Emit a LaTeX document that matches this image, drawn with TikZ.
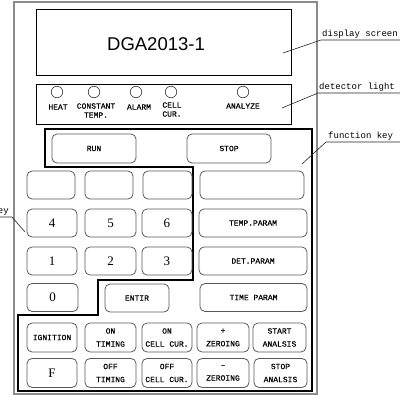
\documentclass[tikz,border=0pt]{standalone}
\usepackage{fontspec}
\newfontfamily\labelfont[FakeBold=0.5]{Liberation Mono}
\newfontfamily\notefont{Liberation Mono}
\newfontfamily\screenfont{Liberation Sans}
\newfontfamily\digitfont{Liberation Serif}
\tikzset{
  btn/.style={draw=black!65, line width=0.8pt, rounded corners=5pt,
    minimum width=50pt, minimum height=28pt, inner sep=0pt, align=center,
    font=\labelfont\fontsize{8}{13}\selectfont},
  digit/.style={btn, font=\digitfont\fontsize{13}{15}\selectfont},
  lamp/.style={draw=black!80, line width=0.6pt, circle, minimum size=11.5pt, inner sep=0pt},
  lamptext/.style={font=\labelfont\fontsize{8}{9}\selectfont, align=center, inner sep=0pt},
  note/.style={font=\notefont\fontsize{9}{10}\selectfont, inner sep=1pt},
  leader/.style={draw=black!85, line width=0.6pt}
}
\begin{document}
\begin{tikzpicture}[x=1pt, y=-1pt]
      \useasboundingbox (0,0) rectangle (400,400);
      \draw[black!45, line width=1.6pt] (14,2) rectangle (317,394);
      \draw[line width=0.8pt] (36,9) rectangle (291,75);
      \draw[line width=0.8pt] (36,84) rectangle (291,124);
      \node[font=\screenfont\fontsize{18.5}{20}\selectfont] (title) at (156,44) {DGA2013-1};
      \draw
        (57,92) node[lamp] (l0){}
        (94,92) node[lamp] (l1){}
        (136,92) node[lamp] (l2){}
        (171,92) node[lamp] (l3){}
        (243,92) node[lamp] (l4){};
      \draw
        (58,107) node[lamptext] (t0){HEAT}
        (96,110.5) node[lamptext] (t1){CONSTANT\\TEMP.}
        (139,107) node[lamptext] (t2){ALARM}
        (172,109.5) node[lamptext] (t3){CELL\\CUR.}
        (243,106) node[lamptext] (t4){ANALYZE};
      \draw[line width=1.8pt]
        (45,129) -- (312,129) -- (312,391) -- (18,391) -- (18,315) -- (98,315)
        -- (98,280) -- (193,280) -- (193,167) -- (45,167) -- cycle;
      \draw
        (94,148.5) node[btn, minimum width=84pt, minimum height=29pt] (run){RUN}
        (229,148.5) node[btn, minimum width=84pt, minimum height=29pt] (stop){STOP}
        (51,185) node[btn, minimum width=48pt] (b0){}
        (109,185) node[btn, minimum width=48pt] (b1){}
        (167.5,185) node[btn, minimum width=49pt] (b2){}
        (252,185) node[btn, minimum width=104pt] (b3){}
        (52,223) node[digit] (k4){4}
        (110.5,223) node[digit, minimum width=51pt] (k5){5}
        (167,223) node[digit] (k6){6}
        (52,261) node[digit] (k1){1}
        (110.5,261) node[digit, minimum width=51pt] (k2){2}
        (167,261) node[digit] (k3){3}
        (52.5,297.5) node[digit, minimum width=51pt] (k0){0}
        (137,298) node[btn, minimum width=64pt] (enter){ENTIR}
        (253,223) node[btn, minimum width=108pt] (temp){TEMP.PARAM}
        (253,261) node[btn, minimum width=108pt] (det){DET.PARAM}
        (253.5,297.5) node[btn, minimum width=107pt] (time){TIME PARAM};
      \draw
        (52,337.5) node[btn, minimum height=29pt] (ign){IGNITION}
        (110.5,337.5) node[btn, minimum width=51pt, minimum height=29pt] (ontm){ON\\TIMING}
        (167,337.5) node[btn, minimum height=29pt] (oncc){ON\\CELL CUR.}
        (223,337.5) node[btn, minimum width=52pt, minimum height=29pt] (zup){+\\ZEROING}
        (279.5,337.5) node[btn, minimum width=53pt, minimum height=29pt] (start){START\\ANALSIS}
        (52,373) node[digit, minimum height=29pt] (f){F}
        (110.5,373) node[btn, minimum width=51pt, minimum height=29pt] (offtm){OFF\\TIMING}
        (167,373) node[btn, minimum height=29pt] (offcc){OFF\\CELL CUR.}
        (223,373) node[btn, minimum width=52pt, minimum height=29pt] (zdn){–\\ZEROING}
        (280.5,373) node[btn, minimum width=53pt, minimum height=29pt] (halt){STOP\\ANALSIS};
      \coordinate (ds0) at (283,53);
      \coordinate (ds1) at (321,40);
      \coordinate (ds2) at (400,40);
      \coordinate (dl0) at (282,108);
      \coordinate (dl1) at (318,93);
      \coordinate (dl2) at (400,93);
      \coordinate (fk0) at (302,164);
      \coordinate (fk1) at (326,142);
      \coordinate (fk2) at (400,142);
      \coordinate (nk0) at (25,232);
      \coordinate (nk1) at (12,217);
      \coordinate (nk2) at (-30,217);
      \begin{scope}[leader]
        \draw (ds0) -- (ds1) -- (ds2);
        \draw (dl0) -- (dl1) -- (dl2);
        \draw (fk0) -- (fk1) -- (fk2);
        \draw (nk0) -- (nk1) -- (nk2);
      \end{scope}
      \node[note, anchor=south west] (dsl) at (ds1) {display screen};
      \node[note, anchor=south west] (dll) at (dl1) {detector light};
      \node[note, anchor=south west] (fkl) at ([xshift=1pt]fk1) {function key};
      \node[note, anchor=south east] (nkl) at ([xshift=-2pt]nk1) {key};
    \end{tikzpicture}
\end{document}
